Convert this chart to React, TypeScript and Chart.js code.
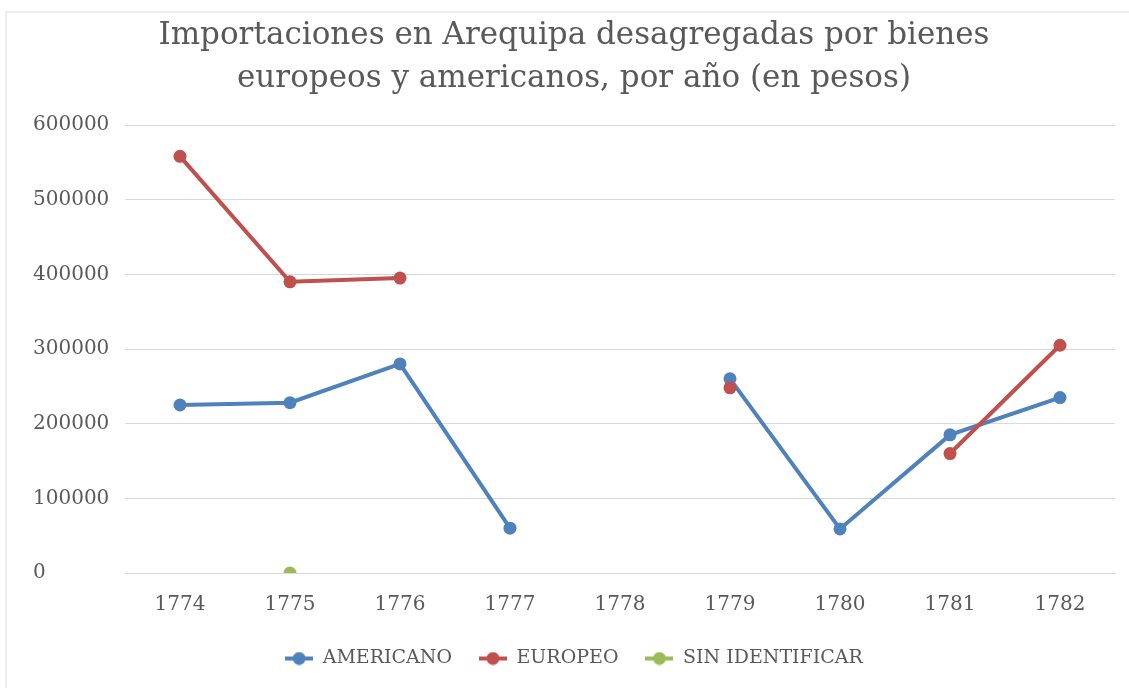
import React, { useEffect, useRef } from "react";
import { Chart, registerables } from "chart.js";

Chart.register(...registerables);

const years = ["1774", "1775", "1776", "1777", "1778", "1779", "1780", "1781", "1782"];
const americano = [225000, 228000, 280000, 60000, null, 260000, 59000, 185000, 235000];
const europeo = [558000, 390000, 395000, null, null, 248000, null, 160000, 305000];
const sinIdentificar = [null, 0, null, null, null, null, null, null, null];
const titleLines = [
  "Importaciones en Arequipa desagregadas por bienes",
  "europeos y americanos, por año (en pesos)",
];
const seriesNames = ["AMERICANO", "EUROPEO", "SIN IDENTIFICAR"];
const colors = ["#4F81BD", "#C0504D", "#9BBB59"];

const FONT = "'DejaVu Serif', 'Liberation Serif', serif";
const GRAY = "#595959";

function makeMarker(color: string): HTMLCanvasElement {
  const c = document.createElement("canvas");
  c.width = 28;
  c.height = 14;
  const ctx = c.getContext("2d")!;
  ctx.strokeStyle = color;
  ctx.lineWidth = 4;
  ctx.beginPath();
  ctx.moveTo(0, 7);
  ctx.lineTo(28, 7);
  ctx.stroke();
  ctx.fillStyle = color;
  ctx.beginPath();
  ctx.arc(14, 7, 6.5, 0, Math.PI * 2);
  ctx.fill();
  return c;
}

export default function App() {
  const ref = useRef<HTMLCanvasElement | null>(null);

  useEffect(() => {
    document.body.style.margin = "0";
    if (!ref.current) return;
    const markers = colors.map(makeMarker);
    const chart = new Chart(ref.current, {
      type: "line",
      data: {
        labels: years,
        datasets: [americano, europeo, sinIdentificar].map((d, i) => ({
          label: seriesNames[i],
          data: d,
          borderColor: colors[i],
          backgroundColor: colors[i],
          borderWidth: 4,
          pointRadius: 6.5,
          pointHoverRadius: 6.5,
          pointBorderWidth: 0,
          spanGaps: false,
          tension: 0,
          order: 3 - i,
        })),
      },
      options: {
        animation: false,
        responsive: false,
        events: [],
        layout: { padding: { left: 33, right: 14, top: 0, bottom: 10 } },
        plugins: {
          tooltip: { enabled: false },
          title: {
            display: true,
            text: titleLines,
            color: GRAY,
            font: { family: FONT, size: 31, weight: "normal", lineHeight: "43px" } as any,
            padding: { top: 14, bottom: 25 },
          },
          legend: {
            display: true,
            position: "bottom",
            labels: {
              color: GRAY,
              font: { family: FONT, size: 19 },
              usePointStyle: true,
              pointStyleWidth: 28,
              padding: 27,
              sort: (a: any, b: any) => a.datasetIndex - b.datasetIndex,
              generateLabels: (ch: any) =>
                ch.data.datasets.map((ds: any, i: number) => ({
                  text: ds.label,
                  fillStyle: colors[i],
                  strokeStyle: colors[i],
                  lineWidth: 0,
                  pointStyle: markers[i],
                  fontColor: GRAY,
                  datasetIndex: i,
                  hidden: false,
                })),
            },
          },
        },
        scales: {
          x: {
            offset: true,
            afterFit: (s: any) => {
              s.height -= 15;
            },
            grid: { display: false, drawTicks: false },
            border: { display: true, color: "#d9d9d9", width: 1 },
            ticks: { color: GRAY, font: { family: FONT, size: 20 }, padding: 20 },
          },
          y: {
            min: 0,
            max: 600000,
            afterFit: (s: any) => {
              s.width = 92;
            },
            grid: { color: "#d9d9d9", lineWidth: 1, drawTicks: false },
            border: { display: false },
            ticks: {
              stepSize: 100000,
              color: GRAY,
              font: { family: FONT, size: 20 },
              crossAlign: "far",
              padding: 10,
              callback: (v: any) => String(v),
            },
          },
        },
      },
    });
    return () => chart.destroy();
  }, []);

  return (
    <div style={{ position: "relative", width: 1129, height: 688, background: "#fff" }}>
      <div style={{ position: "absolute", left: 5, top: 11, width: 2, height: 677, background: "#ededed" }} />
      <div style={{ position: "absolute", left: 5, top: 11, width: 1124, height: 2, background: "#ededed" }} />
      <canvas ref={ref} width={1129} height={688} style={{ position: "absolute", left: 0, top: 0 }} />
    </div>
  );
}
